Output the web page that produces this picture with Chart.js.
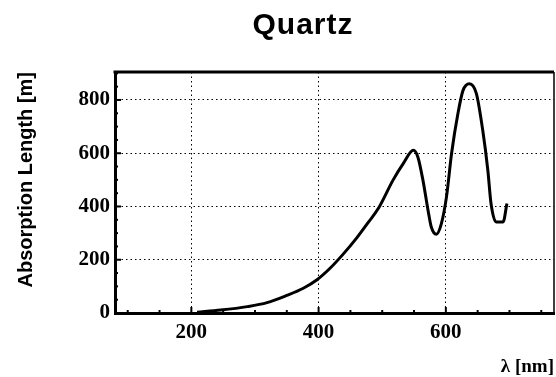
<!DOCTYPE html>
<html>
<head>
<meta charset="utf-8">
<script src="https://cdn.jsdelivr.net/npm/chart.js@4.4.0/dist/chart.umd.min.js"></script>
<style>
  html, body { margin: 0; padding: 0; background: #fff; }
  #wrap { width: 556px; height: 377px; }
</style>
</head>
<body>
<div id="wrap"><canvas id="quartz"></canvas></div>
<script>
'use strict';

// values
var wavelength = [209, 246, 288, 319, 350, 376, 397, 418, 439, 460, 478, 494, 517, 533, 549, 556, 564, 572, 577, 585, 593, 601, 609, 619, 627, 637, 648, 658, 666, 671, 679, 690, 696];
var absLength  = [3, 11, 24, 39, 66, 93, 124, 168, 222, 282, 340, 393, 499, 561, 611, 586, 499, 386, 324, 296, 336, 436, 599, 749, 836, 861, 824, 686, 536, 411, 342, 342, 411];

var xRange = [80, 770];
var yRange = [0, 905];
var majorStep = 200;
var minorStep = 50;

var chartTitle = 'Quartz';
var xTitle = 'λ [nm]';
var yTitle = 'Absorption Length [m]';

var points = wavelength.map(function(x, i) { return { x: x, y: absLength[i] }; });

var serifBold = { family: '"Liberation Serif", "Times New Roman", serif', weight: 'bold', size: 21 };
var sansBold = { family: '"Liberation Sans", Arial, sans-serif', weight: 'bold', size: 20 };

function onlyMajor(scale) {
  scale.ticks = scale.ticks.filter(function(t) { return t.value % majorStep === 0; });
}

// ROOT style frame: inward ticks, closed box, title
var frame = {
  id: 'frame',
  afterDraw: function(chart) {
    var ctx = chart.ctx;
    var a = chart.chartArea;
    var xs = chart.scales.x, ys = chart.scales.y;
    ctx.save();
    ctx.strokeStyle = '#000';
    ctx.lineWidth = 2;
    var v, p, len;
    for (v = Math.ceil(xRange[0] / minorStep) * minorStep; v <= xRange[1]; v += minorStep) {
      p = xs.getPixelForValue(v);
      len = v % majorStep === 0 ? 6 : 3;
      ctx.beginPath(); ctx.moveTo(p, a.bottom); ctx.lineTo(p, a.bottom - len); ctx.stroke();
    }
    for (v = minorStep; v <= yRange[1]; v += minorStep) {
      p = ys.getPixelForValue(v);
      len = v % majorStep === 0 ? 6 : 3;
      ctx.beginPath(); ctx.moveTo(a.left, p); ctx.lineTo(a.left + len, p); ctx.stroke();
    }
    ctx.lineWidth = 3;
    ctx.beginPath(); ctx.moveTo(a.left - 1.5, a.top); ctx.lineTo(a.right, a.top); ctx.stroke();
    ctx.lineWidth = 1.5;
    ctx.beginPath(); ctx.moveTo(a.right, a.top); ctx.lineTo(a.right, a.bottom); ctx.stroke();

    ctx.fillStyle = '#000';
    ctx.font = 'bold 30px "Liberation Sans", Arial, sans-serif';
    ctx.letterSpacing = '1px';
    ctx.textAlign = 'center';
    ctx.textBaseline = 'alphabetic';
    ctx.fillText(chartTitle, chart.width * 0.545, 34);
    ctx.restore();
  }
};

var ctx = document.getElementById('quartz').getContext('2d');
var myChart = new Chart(ctx, {
  type: 'line',
  data: {
    datasets: [{
      data: points,
      borderColor: '#000',
      borderWidth: 3,
      pointRadius: 0,
      fill: false,
      cubicInterpolationMode: 'monotone'
    }]
  },
  options: {
    responsive: true,
    maintainAspectRatio: false,
    animation: false,
    layout: { padding: { top: 72, right: 2, left: 0, bottom: 0 } },
    plugins: {
      legend: { display: false },
      tooltip: { enabled: false },
      title: { display: false }
    },
    scales: {
      x: {
        type: 'linear',
        min: xRange[0],
        max: xRange[1],
        afterBuildTicks: onlyMajor,
        afterFit: function(scale) { scale.height = 64; },
        ticks: { color: '#000', font: serifBold, padding: 7, maxRotation: 0 },
        grid: { color: '#000', lineWidth: 1, drawTicks: false },
        border: { display: true, color: '#000', width: 3, dash: [1.5, 3] },
        title: {
          display: true, text: xTitle, align: 'end', color: '#000',
          font: { family: serifBold.family, weight: 'bold', size: 19 },
          padding: { top: 0, bottom: -1 }
        }
      },
      y: {
        type: 'linear',
        min: yRange[0],
        max: yRange[1],
        afterBuildTicks: onlyMajor,
        afterFit: function(scale) { scale.width = 115; },
        ticks: { color: '#000', font: serifBold, padding: 5 },
        grid: { color: '#000', lineWidth: 1, drawTicks: false },
        border: { display: true, color: '#000', width: 3, dash: [1.5, 3] },
        title: {
          display: true, text: yTitle, align: 'end', color: '#000',
          font: sansBold,
          padding: { top: 14, bottom: 0 }
        }
      }
    }
  },
  plugins: [frame]
});
</script>
</body>
</html>
